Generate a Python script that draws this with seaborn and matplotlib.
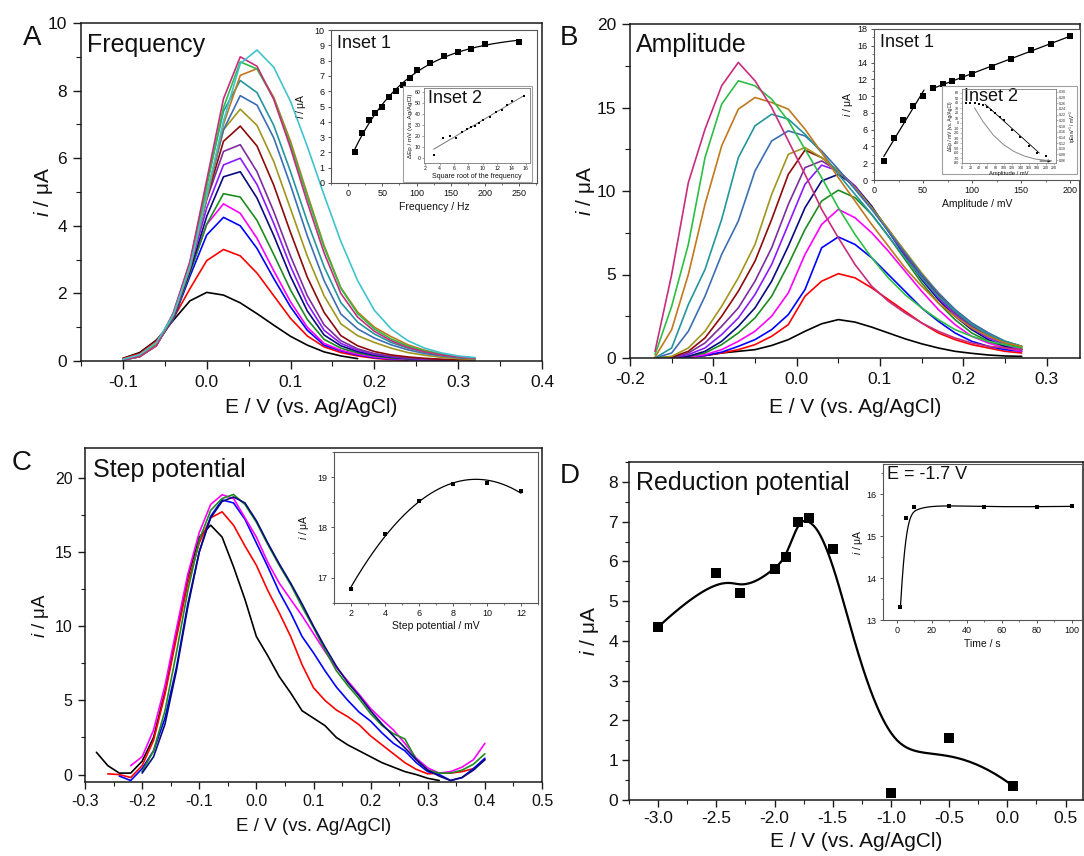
import numpy as np
import pandas as pd
import matplotlib
matplotlib.use("Agg")
import matplotlib.pyplot as plt
from matplotlib.patches import Rectangle
from matplotlib.ticker import MultipleLocator, FormatStrFormatter
import seaborn as sns

nan = np.nan

# ---------------- Panel A: DPV scans at increasing frequency ----------------
E_A = [-0.10, -0.08, -0.06, -0.04, -0.02, 0.00, 0.02, 0.04, 0.06, 0.08, 0.10,
       0.12, 0.14, 0.16, 0.18, 0.20, 0.22, 0.24, 0.26, 0.28, 0.30, 0.32]
iA_10 = [0.08, 0.25, 0.62, 1.2, 1.78, 2.03, 1.95, 1.72, 1.40, 1.06, 0.73, 0.47, 0.27, 0.15, 0.07, nan, nan, nan, nan, nan, nan, nan]
iA_20 = [0.07, 0.22, 0.59, 1.25, 2.14, 2.97, 3.3, 3.11, 2.60, 1.93, 1.26, 0.74, 0.42, 0.25, 0.15, 0.08, 0.04, 0.02, nan, nan, nan, nan]
iA_30 = [0.04, 0.16, 0.52, 1.22, 2.51, 3.73, 4.25, 4.0, 3.33, 2.44, 1.6, 0.91, 0.47, 0.30, 0.18, 0.10, 0.06, 0.04, 0.02, 0.02, nan, nan]
iA_40 = [0.03, 0.14, 0.48, 1.27, 2.64, 4.04, 4.65, 4.37, 3.63, 2.67, 1.75, 1.0, 0.52, 0.32, 0.2, 0.12, 0.07, 0.05, 0.03, 0.02, 0.02, nan]
iA_50 = [0.04, 0.15, 0.5, 1.24, 2.6, 4.05, 4.95, 4.85, 4.16, 3.15, 2.1, 1.23, 0.64, 0.38, 0.24, 0.15, 0.09, 0.06, 0.04, 0.03, 0.02, nan]
iA_60 = [0.04, 0.15, 0.5, 1.3, 2.66, 4.28, 5.45, 5.6, 4.82, 3.71, 2.5, 1.48, 0.77, 0.45, 0.28, 0.17, 0.11, 0.07, 0.05, 0.03, 0.02, nan]
iA_70 = [0.03, 0.14, 0.48, 1.28, 2.75, 4.53, 5.8, 6.0, 5.22, 4.07, 2.8, 1.7, 0.91, 0.52, 0.32, 0.2, 0.13, 0.08, 0.05, 0.04, 0.03, nan]
iA_80 = [0.03, 0.13, 0.46, 1.33, 2.84, 4.78, 6.2, 6.4, 5.6, 4.42, 3.1, 1.93, 1.07, 0.6, 0.36, 0.22, 0.14, 0.09, 0.06, 0.04, 0.03, nan]
iA_90 = [0.03, 0.13, 0.47, 1.3, 2.82, 4.82, 6.5, 6.95, 6.36, 5.2, 3.8, 2.48, 1.44, 0.75, 0.45, 0.28, 0.18, 0.12, 0.08, 0.05, 0.04, 0.03]
iA_100 = [0.03, 0.13, 0.47, 1.35, 2.87, 4.98, 6.84, 7.45, 6.97, 5.9, 4.5, 3.1, 1.93, 1.1, 0.75, 0.55, 0.38, 0.25, 0.17, 0.11, 0.07, 0.05]
iA_120 = [0.04, 0.15, 0.49, 1.32, 2.79, 4.84, 6.84, 7.85, 7.57, 6.6, 5.2, 3.7, 2.38, 1.39, 0.95, 0.68, 0.48, 0.33, 0.22, 0.15, 0.1, 0.07]
iA_140 = [0.03, 0.13, 0.46, 1.38, 2.93, 5.23, 7.39, 8.3, 7.94, 6.97, 5.6, 4.13, 2.79, 1.73, 1.15, 0.8, 0.55, 0.38, 0.26, 0.17, 0.11, 0.08]
iA_160 = [0.04, 0.16, 0.5, 1.34, 2.74, 4.81, 7.0, 8.45, 8.65, 7.8, 6.5, 4.94, 3.42, 2.17, 1.45, 1.0, 0.72, 0.48, 0.32, 0.2, 0.13, 0.08]
iA_180 = [0.03, 0.14, 0.47, 1.4, 2.88, 5.17, 7.5, 8.85, 8.64, 7.76, 6.4, 4.85, 3.37, 2.15, 1.4, 0.95, 0.65, 0.44, 0.3, 0.2, 0.13, 0.09]
iA_200 = [0.03, 0.13, 0.45, 1.42, 2.94, 5.35, 7.76, 9.0, 8.72, 7.74, 6.3, 4.69, 3.2, 2.0, 1.3, 0.88, 0.6, 0.4, 0.27, 0.18, 0.12, 0.08]
iA_250 = [0.05, 0.19, 0.55, 1.36, 2.8, 4.9, 7.1, 8.8, 9.2, 8.69, 7.68, 6.35, 4.91, 3.54, 2.38, 1.5, 0.95, 0.6, 0.38, 0.24, 0.15, 0.1]

freq_Hz = [10, 20, 30, 40, 50, 60, 70, 80, 90, 100, 120, 140, 160, 180, 200, 250]
ip_freq = [2.02, 3.28, 4.15, 4.6, 4.96, 5.59, 6.0, 6.39, 6.89, 7.39, 7.85, 8.28, 8.59, 8.78, 9.09, 9.22]
dEp_freq = [2, 18.3, 20, 18.3, 23.7, 26.3, 27.8, 28.7, 32, 35, 37, 42, 43.5, 48, 52, 57]

# ---------------- Panel B: DPV scans at increasing pulse amplitude ----------------
E_B = [-0.17, -0.15, -0.13, -0.11, -0.09, -0.07, -0.05, -0.03, -0.01, 0.01, 0.03, 0.05,
       0.07, 0.09, 0.11, 0.13, 0.15, 0.17, 0.19, 0.21, 0.23, 0.25, 0.27]
iB_10 = [0.0, 0.05, 0.1, 0.15, 0.3, 0.4, 0.5, 0.75, 1.1, 1.6, 2.05, 2.3, 2.15, 1.85, 1.5, 1.15, 0.85, 0.6, 0.4, 0.28, 0.18, 0.12, 0.1]
iB_20 = [0.0, 0.0, 0.05, 0.15, 0.3, 0.5, 0.8, 1.3, 2.0, 3.7, 4.6, 5.05, 4.8, 4.2, 3.5, 2.8, 2.1, 1.5, 1.1, 0.8, 0.6, 0.4, 0.3]
iB_30 = [0.0, 0.0, 0.05, 0.15, 0.35, 0.7, 1.1, 1.7, 2.6, 4.1, 6.6, 7.25, 6.8, 6.0, 5.0, 4.0, 3.0, 2.2, 1.5, 1.0, 0.7, 0.5, 0.4]
iB_40 = [0.0, 0.0, 0.05, 0.2, 0.5, 1.0, 1.6, 2.5, 3.9, 6.2, 8.0, 8.9, 8.4, 7.5, 6.4, 5.2, 4.0, 2.9, 2.0, 1.3, 0.9, 0.6, 0.4]
iB_50 = [0.0, 0.0, 0.1, 0.3, 0.8, 1.5, 2.4, 3.7, 5.6, 7.7, 9.4, 10.05, 9.6, 8.6, 7.3, 5.9, 4.5, 3.3, 2.3, 1.5, 1.0, 0.7, 0.5]
iB_60 = [0.0, 0.0, 0.1, 0.4, 1.0, 1.9, 3.0, 4.6, 6.7, 9.0, 10.6, 11.0, 10.3, 9.1, 7.6, 6.1, 4.7, 3.5, 2.5, 1.7, 1.1, 0.7, 0.5]
iB_70 = [0.0, 0.0, 0.2, 0.6, 1.4, 2.4, 3.8, 5.6, 8.0, 10.4, 11.55, 11.2, 10.3, 9.0, 7.6, 6.2, 4.8, 3.6, 2.6, 1.8, 1.2, 0.8, 0.5]
iB_80 = [0.0, 0.0, 0.3, 0.9, 1.9, 3.0, 4.6, 6.6, 9.2, 11.4, 11.8, 11.2, 10.2, 9.0, 7.6, 6.2, 4.9, 3.7, 2.7, 1.9, 1.3, 0.9, 0.6]
iB_90 = [0.0, 0.05, 0.4, 1.2, 2.5, 4.0, 5.8, 8.3, 11.0, 12.45, 12.0, 11.2, 10.2, 9.0, 7.7, 6.3, 5.0, 3.8, 2.8, 2.0, 1.4, 0.9, 0.6]
iB_100 = [0.0, 0.1, 0.6, 1.6, 3.1, 4.8, 6.8, 9.8, 12.2, 12.6, 12.0, 11.2, 10.2, 9.0, 7.7, 6.4, 5.1, 3.9, 2.9, 2.1, 1.5, 1.0, 0.7]
iB_120 = [0.0, 0.3, 1.6, 3.7, 6.2, 8.2, 11.2, 13.0, 13.6, 13.3, 12.4, 11.3, 10.1, 8.9, 7.6, 6.3, 5.0, 3.9, 2.9, 2.1, 1.5, 1.0, 0.7]
iB_140 = [0.0, 0.6, 3.2, 5.3, 8.3, 12.0, 13.9, 14.6, 14.3, 13.4, 12.3, 11.0, 9.8, 8.6, 7.3, 6.0, 4.8, 3.7, 2.8, 2.0, 1.4, 1.0, 0.7]
iB_160 = [0.05, 1.7, 5.0, 9.2, 12.7, 14.9, 15.6, 15.3, 14.9, 13.7, 12.3, 10.8, 9.4, 8.0, 6.7, 5.4, 4.3, 3.3, 2.5, 1.8, 1.3, 0.9, 0.7]
iB_180 = [0.2, 3.1, 6.8, 12.0, 15.2, 16.6, 16.3, 15.5, 14.2, 12.5, 10.8, 9.0, 7.4, 6.0, 4.8, 3.8, 3.0, 2.3, 1.7, 1.3, 1.0, 0.8, 0.6]
iB_200 = [0.4, 5.0, 10.5, 13.7, 16.3, 17.7, 16.6, 15.0, 13.0, 11.0, 8.9, 7.2, 5.6, 4.3, 3.4, 2.7, 2.1, 1.6, 1.2, 0.9, 0.7, 0.6, 0.5]

amp_mV = [10, 20, 30, 40, 50, 60, 70, 80, 90, 100, 120, 140, 160, 180, 200]
ip_amp = [2.3, 5.0, 7.2, 8.8, 10.05, 10.95, 11.4, 11.8, 12.25, 12.65, 13.5, 14.45, 15.45, 16.25, 17.15]
dEp_amp = [41, 40, 40, 38, 37, 33, 27, 21, 13, 6, -13, -28, -46, -59, -65]
ratio_amp_x = [30, 50, 75, 100, 125, 150, 175, 215]
ratio_amp_y = [0.244, 0.196, 0.148, 0.114, 0.090, 0.074, 0.064, 0.057]

# ---------------- Panel C: DPV scans at increasing step potential ----------------
E_C = [-0.28, -0.26, -0.24, -0.22, -0.20, -0.18, -0.16, -0.14, -0.12, -0.10, -0.08, -0.06,
       -0.04, -0.02, 0.00, 0.02, 0.04, 0.06, 0.08, 0.10, 0.12, 0.14, 0.16, 0.18, 0.20,
       0.22, 0.24, 0.26, 0.28, 0.30, 0.32, 0.34, 0.36, 0.38, 0.40]
iC_2 = [1.5, 0.6, 0.1, 0.1, 0.9, 2.5, 5.6, 9.5, 13.3, 16.0, 16.8, 16.0, 14.0, 11.8, 9.3, 8.0, 6.6, 5.5, 4.3, 3.8, 3.3, 2.5, 2.0, 1.6, 1.2, 0.8, 0.5, 0.2, 0.0, -0.25, -0.4, nan, nan, nan, nan]
iC_4 = [nan, 0.05, 0.0, -0.2, 0.6, 2.3, 5.4, 9.2, 12.9, 15.6, 17.3, 17.7, 16.8, 15.4, 14.1, 12.4, 10.9, 9.3, 7.4, 5.85, 5.0, 4.35, 3.9, 3.35, 2.6, 2.0, 1.4, 0.8, 0.35, 0.05, 0.1, 0.1, 0.2, 0.4, 1.0]
iC_6 = [nan, nan, -0.1, -0.4, 0.4, 1.6, 3.8, 7.2, 11.5, 15.0, 17.4, 18.5, 18.3, 17.2, 15.6, 14.0, 12.3, 10.9, 9.3, 8.2, 7.0, 5.9, 5.0, 4.2, 3.6, 2.8, 2.1, 1.6, 0.8, 0.2, 0.0, -0.4, -0.2, 0.4, 1.1]
iC_8 = [nan, nan, nan, 0.6, 1.2, 3.0, 6.0, 9.8, 13.5, 16.3, 18.2, 18.85, 18.6, 17.3, 16.0, 14.3, 12.9, 11.8, 10.7, 9.5, 8.3, 7.2, 6.3, 5.4, 4.45, 3.7, 3.0, 2.1, 1.1, 0.45, 0.1, 0.2, 0.5, 1.0, 2.1]
iC_10 = [nan, nan, nan, nan, 0.2, 1.6, 4.3, 8.2, 12.4, 15.8, 17.8, 18.6, 18.87, 18.2, 17.0, 15.5, 14.1, 12.8, 11.3, 9.9, 8.4, 7.0, 6.0, 5.1, 4.1, 3.3, 2.75, 2.4, 1.0, 0.3, 0.1, 0.1, 0.3, 0.7, 1.4]
iC_12 = [nan, nan, nan, nan, 0.1, 1.2, 3.4, 7.0, 11.3, 15.0, 17.3, 18.4, 18.7, 18.3, 17.1, 15.6, 14.2, 12.9, 11.5, 10.0, 8.6, 7.3, 6.2, 5.3, 4.3, 3.4, 2.6, 1.8, 1.0, 0.3, -0.1, -0.4, -0.2, 0.3, 1.0]

step_mV = [2, 4, 6, 8, 10, 12]
ip_step = [16.78, 17.88, 18.53, 18.87, 18.88, 18.72]

# ---------------- Panel D: peak current vs. reduction potential ----------------
E_red = [-3.0, -2.5, -2.3, -2.0, -1.9, -1.8, -1.7, -1.5, -1.0, -0.5, 0.05]
ip_red = [4.35, 5.7, 5.2, 5.8, 6.1, 7.0, 7.1, 6.3, 0.17, 1.55, 0.35]
t_red = [2, 5, 10, 30, 50, 80, 100]
ip_time = [13.32, 15.43, 15.7, 15.73, 15.7, 15.7, 15.71]

scan_colors = ["#000000", "#ff0000", "#0000ff", "#ff00ff", "#1e8c1e", "#0a0a80",
               "#8c1aff", "#7d2d9e", "#8c0a0a", "#a0961e", "#3c6eb4", "#23969b",
               "#c0781e", "#2dbe46", "#c82d7d", "#41c3cd"]

# ---------------- styling ----------------
sns.set_theme(style="ticks")
plt.rcParams.update({
    "font.family": ["Liberation Sans", "DejaVu Sans"],
    "mathtext.fontset": "custom",
    "mathtext.rm": "Liberation Sans",
    "mathtext.it": "Liberation Sans:italic",
    "axes.unicode_minus": False,
    "axes.edgecolor": "#1a1a1a",
    "axes.linewidth": 1.1,
    "text.color": "#111111",
    "axes.labelcolor": "#111111",
})

W, H = 1084, 856
fig = plt.figure(figsize=(W / 100, H / 100), dpi=100)


def box(l, t, r, b):
    return [l / W, 1 - b / H, (r - l) / W, (b - t) / H]


def frame(l, t, r, b, z):
    fig.add_artist(Rectangle((l / W, 1 - b / H), (r - l) / W, (b - t) / H,
                             transform=fig.transFigure, facecolor="white",
                             edgecolor="#a0a0a0", lw=0.8, zorder=z))


def style(ax, size, major, minor, width=1.0, pad=3, spine="#1a1a1a", slw=1.1):
    ax.tick_params(which="major", direction="out", length=major, width=width,
                   labelsize=size, pad=pad, top=False, right=False,
                   color=spine, labelcolor="#111111")
    ax.tick_params(which="minor", direction="out", length=minor, width=width * 0.8,
                   top=False, right=False, color=spine)
    for sp in ax.spines.values():
        sp.set_visible(True)
        sp.set_color(spine)
        sp.set_linewidth(slw)


def scans(ax, E, curves, lw=1.2):
    rows = []
    for k, ys in enumerate(curves):
        for e, y in zip(E, ys):
            if not np.isnan(y):
                rows.append((e, y, f"s{k:02d}"))
    df = pd.DataFrame(rows, columns=["E", "i", "scan"])
    order = [f"s{k:02d}" for k in range(len(curves))]
    sns.lineplot(data=df, x="E", y="i", hue="scan", hue_order=order,
                 palette=dict(zip(order, scan_colors[:len(curves)])),
                 estimator=None, sort=False, legend=False, lw=lw, ax=ax)


def bspline(px, py, n_out=400, k=3):
    """Clamped cubic B-spline using the points as control points."""
    P = np.column_stack([px, py]).astype(float)
    n = len(P)
    knots = np.concatenate([np.zeros(k + 1), np.arange(1, n - k),
                            np.full(k + 1, n - k)]).astype(float)
    t = np.linspace(0, n - k, n_out)
    N = np.zeros((n_out, len(knots) - 1))
    for j in range(len(knots) - 1):
        N[:, j] = (knots[j] <= t) & (t < knots[j + 1])
    last = np.where(knots[:-1] < knots[1:])[0][-1]
    N[t >= knots[-1], last] = 1.0
    for d in range(1, k + 1):
        Nn = np.zeros((n_out, len(knots) - 1 - d))
        for j in range(len(knots) - 1 - d):
            a = knots[j + d] - knots[j]
            b = knots[j + d + 1] - knots[j + 1]
            term = np.zeros(n_out)
            if a > 0:
                term += (t - knots[j]) / a * N[:, j]
            if b > 0:
                term += (knots[j + d + 1] - t) / b * N[:, j + 1]
            Nn[:, j] = term
        N = Nn
    return N @ P


ylab_main = r"$\mathit{i}$ / μA"
xlab_main = "E / V (vs. Ag/AgCl)"
MAIN_TICK = 12.5
MAIN_LAB = 15

# ================= Panel A =================
axA = fig.add_axes(box(81, 23, 542, 361))
scans(axA, E_A, [iA_10, iA_20, iA_30, iA_40, iA_50, iA_60, iA_70, iA_80, iA_90,
                 iA_100, iA_120, iA_140, iA_160, iA_180, iA_200, iA_250])
axA.set_xlim(-0.15, 0.4)
axA.set_ylim(0, 10)
axA.xaxis.set_major_locator(MultipleLocator(0.1))
axA.xaxis.set_minor_locator(MultipleLocator(0.05))
axA.xaxis.set_major_formatter(FormatStrFormatter("%.1f"))
axA.yaxis.set_major_locator(MultipleLocator(2))
axA.yaxis.set_minor_locator(MultipleLocator(1))
style(axA, MAIN_TICK, 6, 3.5, pad=4)
axA.set_xlabel(xlab_main, fontsize=MAIN_LAB, labelpad=6)
axA.set_ylabel(ylab_main, fontsize=MAIN_LAB, labelpad=-5)
fig.text(23 / W, 1 - 45 / H, "A", fontsize=20, va="baseline")
fig.text(87 / W, 1 - 52 / H, "Frequency", fontsize=18, va="baseline")

axA1 = fig.add_axes(box(331, 30, 537, 183))
axA1.set_zorder(3)
fx = np.array(freq_Hz, float)
fy = np.array(ip_freq, float)
best = None
for tau in np.linspace(20, 300, 561):
    X = np.column_stack([np.ones_like(fx), np.exp(-fx / tau)])
    coef = np.linalg.lstsq(X, fy, rcond=None)[0]
    err = np.sum((X @ coef - fy) ** 2)
    if best is None or err < best[0]:
        best = (err, tau, coef)
_, tau, coef = best
xx = np.linspace(fx.min(), fx.max() + 3, 200)
sns.lineplot(x=xx, y=coef[0] + coef[1] * np.exp(-xx / tau), color="black", lw=0.9, ax=axA1)
sns.scatterplot(x=freq_Hz, y=ip_freq, marker="s", s=16, color="black", linewidth=0, ax=axA1, zorder=3)
axA1.set_xlim(-25, 276)
axA1.set_ylim(0, 10)
axA1.xaxis.set_major_locator(MultipleLocator(50))
axA1.xaxis.set_minor_locator(MultipleLocator(25))
axA1.yaxis.set_major_locator(MultipleLocator(1))
style(axA1, 6.5, 2.5, 1.5, width=0.7, pad=2, spine="#555555", slw=0.8)
axA1.set_xlabel("Frequency / Hz", fontsize=7.5, labelpad=3)
axA1.set_ylabel(ylab_main, fontsize=7.5, labelpad=5)
axA1.text(0.03, 0.97, "Inset 1", transform=axA1.transAxes, fontsize=13, va="top", ha="left")

frame(403, 86, 532, 182, 4)
axA2 = fig.add_axes(box(424, 88, 530, 163))
axA2.set_zorder(5)
sx = np.sqrt(np.array(freq_Hz, float))
sy = np.array(dEp_freq, float)
m, c = np.polyfit(sx, sy, 1)
xl = np.array([sx.min(), sx.max()])
sns.lineplot(x=xl, y=m * xl + c, color="#777777", lw=0.7, ax=axA2)
sns.scatterplot(x=sx, y=sy, marker="s", s=2.5, color="black", linewidth=0, ax=axA2, zorder=3)
axA2.set_xlim(1.8, 16.6)
axA2.set_ylim(-5, 64)
axA2.xaxis.set_major_locator(MultipleLocator(2))
axA2.yaxis.set_major_locator(MultipleLocator(10))
style(axA2, 3.8, 1.5, 1, width=0.5, pad=1, spine="#777777", slw=0.6)
axA2.set_xlabel("Square root of the frequency", fontsize=5, labelpad=1)
axA2.set_ylabel("ΔEp / mV (vs. Ag/AgCl)", fontsize=4.5, labelpad=1)
axA2.text(0.04, 0.97, "Inset 2", transform=axA2.transAxes, fontsize=13, va="top", ha="left")

# ================= Panel B =================
axB = fig.add_axes(box(630, 24, 1080, 358))
scans(axB, E_B, [iB_10, iB_20, iB_30, iB_40, iB_50, iB_60, iB_70, iB_80, iB_90,
                 iB_100, iB_120, iB_140, iB_160, iB_180, iB_200])
axB.set_xlim(-0.2, 0.34)
axB.set_ylim(0, 20)
axB.xaxis.set_major_locator(MultipleLocator(0.1))
axB.xaxis.set_minor_locator(MultipleLocator(0.05))
axB.xaxis.set_major_formatter(FormatStrFormatter("%.1f"))
axB.yaxis.set_major_locator(MultipleLocator(5))
axB.yaxis.set_minor_locator(MultipleLocator(2.5))
style(axB, MAIN_TICK, 6, 3.5, pad=4)
axB.set_xlabel(xlab_main, fontsize=MAIN_LAB, labelpad=8)
axB.set_ylabel(ylab_main, fontsize=MAIN_LAB, labelpad=0)
fig.text(560 / W, 1 - 45 / H, "B", fontsize=20, va="baseline")
fig.text(636 / W, 1 - 52 / H, "Amplitude", fontsize=18, va="baseline")

axB1 = fig.add_axes(box(874, 29, 1080, 180))
axB1.set_zorder(3)
ax_ = np.array(amp_mV, float)
ay_ = np.array(ip_amp, float)
low = ax_ <= 50
for sel, x0, x1 in ((low, 10, 51), (~low, 60, 200)):
    m, c = np.polyfit(ax_[sel], ay_[sel], 1)
    xl = np.array([x0, x1])
    sns.lineplot(x=xl, y=m * xl + c, color="black", lw=0.9, ax=axB1)
sns.scatterplot(x=amp_mV, y=ip_amp, marker="s", s=16, color="black", linewidth=0, ax=axB1, zorder=3)
axB1.set_xlim(0, 210)
axB1.set_ylim(0, 18)
axB1.xaxis.set_major_locator(MultipleLocator(50))
axB1.xaxis.set_minor_locator(MultipleLocator(25))
axB1.yaxis.set_major_locator(MultipleLocator(2))
axB1.yaxis.set_minor_locator(MultipleLocator(1))
style(axB1, 6.5, 2.5, 1.5, width=0.7, pad=2, spine="#555555", slw=0.8)
axB1.set_xlabel("Amplitude / mV", fontsize=7.5, labelpad=3)
axB1.set_ylabel(ylab_main, fontsize=7.5, labelpad=2)
axB1.text(0.03, 0.97, "Inset 1", transform=axB1.transAxes, fontsize=13, va="top", ha="left")

frame(942, 86, 1077, 174, 4)
axB2 = fig.add_axes(box(962, 89, 1056, 163))
axB2.set_zorder(5)
bx = np.array(amp_mV, float)
by = np.array(dEp_amp, float)
lin = bx >= 60
m, c = np.polyfit(bx[lin], by[lin], 1)
xl = np.array([55, 185])
sns.lineplot(x=xl, y=m * xl + c, color="black", lw=0.6, ax=axB2)
sns.scatterplot(x=amp_mV, y=dEp_amp, marker="s", s=2.5, color="black", linewidth=0, ax=axB2, zorder=3)
axB2.annotate("", xy=(220, -76), xytext=(180, -76),
              arrowprops=dict(arrowstyle="-|>", lw=0.6, color="black", mutation_scale=4))
axB2.set_xlim(0, 225)
axB2.set_ylim(-80, 68)
axB2.xaxis.set_major_locator(MultipleLocator(20))
axB2.yaxis.set_major_locator(MultipleLocator(10))
style(axB2, 2.6, 1.2, 0.8, width=0.4, pad=1, spine="#888888", slw=0.5)
axB2.set_xlabel("Amplitude / mV", fontsize=4.2, labelpad=0.5)
axB2.set_ylabel("ΔEp / mV (vs. Ag/AgCl)", fontsize=3.4, labelpad=0.5)
axB2r = axB2.twinx()
axB2r.set_zorder(6)
sns.lineplot(x=ratio_amp_x, y=ratio_amp_y, color="#888888", lw=0.7, ax=axB2r)
axB2r.set_ylim(0.05, 0.31)
axB2r.yaxis.set_major_locator(MultipleLocator(0.02))
axB2r.yaxis.set_major_formatter(FormatStrFormatter("%.2f"))
axB2r.tick_params(axis="y", which="major", direction="out", length=1.2, width=0.4,
                  labelsize=2.6, pad=1, right=True, left=False, labelright=True,
                  labelleft=False, color="#888888")
for sp in axB2r.spines.values():
    sp.set_color("#888888")
    sp.set_linewidth(0.5)
axB2r.set_ylabel(r"ipEsw$^{-1}$ / mV$^{-1}$", fontsize=3.4, labelpad=1)
axB2.text(0.02, 1.02, "Inset 2", transform=axB2.transAxes, fontsize=13, va="top", ha="left", zorder=7)

# ================= Panel C =================
axC = fig.add_axes(box(85, 448, 542, 782))
scans(axC, E_C, [iC_2, iC_4, iC_6, iC_8, iC_10, iC_12])
axC.set_xlim(-0.3, 0.5)
axC.set_ylim(-0.5, 22)
axC.xaxis.set_major_locator(MultipleLocator(0.1))
axC.xaxis.set_minor_locator(MultipleLocator(0.05))
axC.xaxis.set_major_formatter(FormatStrFormatter("%.1f"))
axC.yaxis.set_major_locator(MultipleLocator(5))
axC.yaxis.set_minor_locator(MultipleLocator(2.5))
style(axC, 11.5, 5, 3, pad=4)
axC.set_xlabel(xlab_main, fontsize=13.5, labelpad=6)
axC.set_ylabel(ylab_main, fontsize=13.5, labelpad=3)
fig.text(12 / W, 1 - 470 / H, "C", fontsize=20, va="baseline")
fig.text(93 / W, 1 - 477 / H, "Step potential", fontsize=18, va="baseline")

axC1 = fig.add_axes(box(334, 452, 538, 603))
axC1.set_zorder(3)
p2 = np.polyfit(step_mV, ip_step, 2)
xs = np.linspace(2, 12, 200)
sns.lineplot(x=xs, y=np.polyval(p2, xs), color="black", lw=0.9, ax=axC1)
sns.scatterplot(x=step_mV, y=ip_step, marker="s", s=12, color="black", linewidth=0, ax=axC1, zorder=3)
axC1.set_xlim(1, 13)
axC1.set_ylim(16.5, 19.5)
axC1.xaxis.set_major_locator(MultipleLocator(2))
axC1.xaxis.set_minor_locator(MultipleLocator(1))
axC1.yaxis.set_major_locator(MultipleLocator(1))
axC1.yaxis.set_minor_locator(MultipleLocator(0.5))
style(axC1, 6.5, 2.5, 1.5, width=0.7, pad=2, spine="#555555", slw=0.8)
axC1.set_xlabel("Step potential / mV", fontsize=7.5, labelpad=2)
axC1.set_ylabel(ylab_main, fontsize=7.5, labelpad=5)

# ================= Panel D =================
axD = fig.add_axes(box(629, 462, 1083, 800))
curve = bspline(E_red, ip_red)
sns.lineplot(x=curve[:, 0], y=curve[:, 1], sort=False, estimator=None, color="black", lw=1.6, ax=axD)
sns.scatterplot(x=E_red, y=ip_red, marker="s", s=45, color="black", linewidth=0, ax=axD, zorder=3)
axD.set_xlim(-3.25, 0.65)
axD.set_ylim(0, 8.5)
axD.xaxis.set_major_locator(MultipleLocator(0.5))
axD.xaxis.set_minor_locator(MultipleLocator(0.25))
axD.xaxis.set_major_formatter(FormatStrFormatter("%.1f"))
axD.yaxis.set_major_locator(MultipleLocator(1))
axD.yaxis.set_minor_locator(MultipleLocator(0.5))
style(axD, MAIN_TICK, 5, 3, pad=3)
axD.set_xlabel(xlab_main, fontsize=MAIN_LAB, labelpad=4)
axD.set_ylabel(ylab_main, fontsize=MAIN_LAB, labelpad=5)
fig.text(560 / W, 1 - 483 / H, "D", fontsize=20, va="baseline")
fig.text(636 / W, 1 - 490 / H, "Reduction potential", fontsize=18, va="baseline")

axD1 = fig.add_axes(box(883, 464, 1082, 620))
axD1.set_zorder(3)
cd = bspline(t_red, ip_time)
sns.lineplot(x=cd[:, 0], y=cd[:, 1], sort=False, estimator=None, color="black", lw=0.9, ax=axD1)
sns.scatterplot(x=t_red, y=ip_time, marker="s", s=12, color="black", linewidth=0, ax=axD1, zorder=3)
axD1.set_xlim(-8, 106)
axD1.set_ylim(13, 16.72)
axD1.xaxis.set_major_locator(MultipleLocator(20))
axD1.xaxis.set_minor_locator(MultipleLocator(10))
axD1.yaxis.set_major_locator(MultipleLocator(1))
axD1.yaxis.set_minor_locator(MultipleLocator(0.5))
style(axD1, 6.5, 2.5, 1.5, width=0.7, pad=2, spine="#555555", slw=0.8)
axD1.set_xlabel("Time / s", fontsize=7.5, labelpad=3)
axD1.set_ylabel(ylab_main, fontsize=7.5, labelpad=1)
axD1.text(0.02, 0.99, "E = -1.7 V", transform=axD1.transAxes, fontsize=13, va="top", ha="left")

fig.savefig("out.png", dpi=100)
